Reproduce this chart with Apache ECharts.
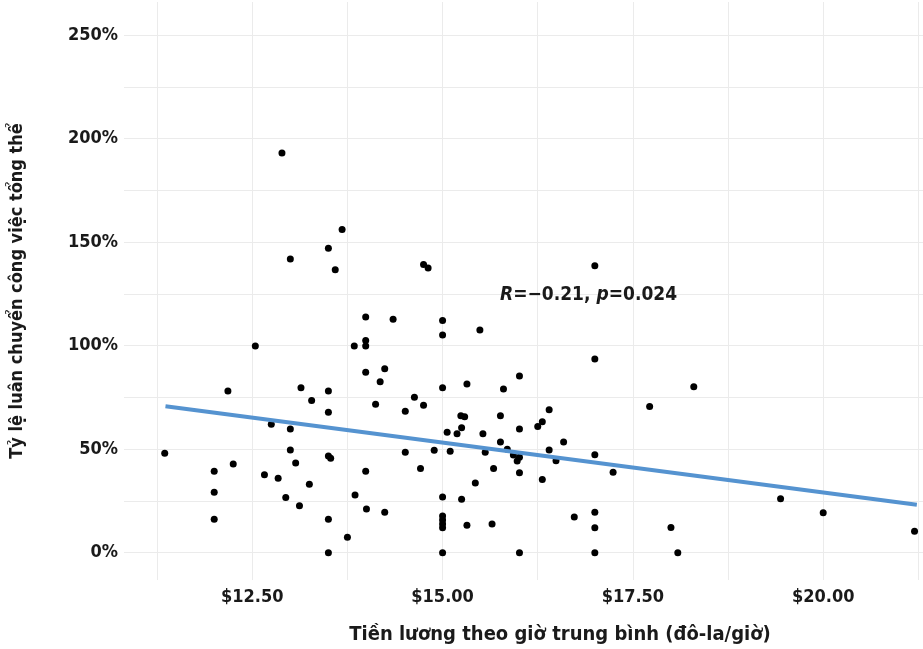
<!DOCTYPE html>
<html>
<head>
<meta charset="utf-8">
<script src="https://cdn.jsdelivr.net/npm/echarts@6/dist/echarts.min.js"></script>
<style>
  html, body { margin: 0; padding: 0; background: #fff; }
  #chart { width: 923px; height: 649px; }
</style>
</head>
<body>
<div id="chart"></div>
<script>
// Average hourly wage (USD/hour)
const wage = [
  12.89, 13.68, 13.50, 13.00, 13.59, 13.99, 13.99, 13.99, 13.84, 12.54,
  14.24, 13.99, 14.18, 12.18, 13.14, 13.50, 13.28, 14.12, 13.50, 12.75,
  13.00, 11.35, 13.00, 13.50, 13.53, 13.07, 12.25, 12.00, 13.99, 12.66,
  12.84, 13.25, 12.00, 13.85, 12.94, 13.12, 14.00, 14.24, 12.00, 13.50,
  13.75, 13.50, 14.75, 14.81, 17.00, 14.35, 15.00, 15.00, 15.49, 17.00,
  16.01, 15.00, 15.32, 15.80, 14.63, 14.51, 14.75, 15.24, 15.29, 15.76,
  16.40, 16.31, 16.25, 15.25, 15.06, 15.19, 16.01, 15.53, 15.76, 16.59,
  14.51, 14.89, 15.10, 15.56, 15.85, 15.93, 16.01, 15.98, 16.40, 16.49,
  17.00, 14.71, 15.67, 16.01, 16.31, 15.43, 15.00, 15.25, 15.00, 15.00,
  15.00, 15.00, 15.32, 15.65, 16.73, 17.00, 17.00, 15.00, 16.01, 17.00,
  18.30, 17.72, 17.24, 19.44, 20.00, 21.20, 18.00, 18.09
];
// Overall job turnover rate (%)
const turnover = [
  193.1, 156.1, 147.0, 141.8, 136.7, 113.9, 102.5, 99.8, 99.8, 99.8,
  88.8, 87.2, 82.6, 78.1, 79.7, 78.1, 73.5, 71.7, 67.8, 62.0,
  59.8, 48.0, 49.6, 46.7, 45.6, 43.3, 42.8, 39.3, 39.3, 37.7,
  35.9, 33.0, 29.2, 27.9, 26.7, 22.7, 21.1, 19.5, 16.1, 16.1,
  7.4, 0.0, 139.2, 137.5, 138.6, 112.8, 112.1, 105.2, 107.6, 93.5,
  85.4, 79.7, 81.5, 79.1, 75.1, 68.3, 71.2, 66.2, 65.6, 66.2,
  69.0, 63.3, 60.9, 60.4, 58.2, 57.5, 59.8, 57.5, 53.5, 53.5,
  48.5, 49.5, 49.0, 48.5, 49.9, 47.2, 46.1, 44.3, 49.6, 44.4,
  47.3, 40.6, 40.6, 38.6, 35.4, 33.7, 26.9, 25.8, 17.7, 15.8,
  13.8, 12.0, 13.2, 13.8, 17.2, 19.5, 12.0, 0.0, 0.0, 0.0,
  80.2, 70.6, 38.8, 26.1, 19.3, 10.3, 12.2, 0.0
];
// Fitted trend line endpoints
const trendX = [11.36, 21.23];
const trendY = [70.7, 23.1];

const xLabelTicks = [12.5, 15, 17.5, 20];
const xGridTicks = [11.25, 12.5, 13.75, 15, 16.25, 17.5, 18.75, 20, 21.25, 22.5];
const yLabelTicks = [0, 50, 100, 150, 200, 250];
const yGridTicks = [0, 25, 50, 75, 100, 125, 150, 175, 200, 225, 250];

const xTitle = 'Tiền lương theo giờ trung bình (đô-la/giờ)';
const yTitle = 'Tỷ lệ luân chuyển công việc tổng thể';

const FONT = '"Liberation Sans Narrow", "DejaVu Sans Condensed", sans-serif';
const TXT = '#1a1a1a';
const GRID = '#ebebeb';

const points = wage.map((w, i) => [w, turnover[i]]);
const trend = trendX.map((x, i) => [x, trendY[i]]);

const chart = echarts.init(document.getElementById('chart'), null, { renderer: 'canvas' });
chart.setOption({
  animation: false,
  backgroundColor: '#ffffff',
  grid: { left: 124, right: -73, top: 2, bottom: 69, containLabel: false, outerBoundsMode: 'none' },
  xAxis: {
    type: 'value',
    min: 10.815,
    max: 22.27,
    name: xTitle,
    nameLocation: 'middle',
    nameGap: 45,
    nameTextStyle: { fontFamily: FONT, fontWeight: 'bold', fontSize: 20, color: TXT },
    axisLine: { show: false },
    axisTick: { show: false, customValues: xGridTicks },
    axisLabel: {
      customValues: xLabelTicks,
      margin: 8,
      fontFamily: FONT, fontWeight: 'bold', fontSize: 18, color: TXT,
      formatter: v => '$' + v.toFixed(2)
    },
    splitLine: { show: true, lineStyle: { color: GRID, width: 1 } }
  },
  yAxis: {
    type: 'value',
    min: -13.2,
    max: 266,
    name: yTitle,
    nameLocation: 'middle',
    nameGap: 98,
    nameRotate: 90,
    nameTextStyle: { fontFamily: FONT, fontWeight: 'bold', fontSize: 18, color: TXT },
    axisLine: { show: false },
    axisTick: { show: false, customValues: yGridTicks },
    axisLabel: {
      customValues: yLabelTicks,
      margin: 6,
      fontFamily: FONT, fontWeight: 'bold', fontSize: 18, color: TXT,
      formatter: v => v + '%'
    },
    splitLine: { show: true, lineStyle: { color: GRID, width: 1 } }
  },
  series: [
    {
      type: 'scatter',
      data: points,
      symbol: 'circle',
      symbolSize: 7,
      itemStyle: { color: '#000000', opacity: 1 },
      z: 2
    },
    {
      type: 'line',
      data: trend,
      showSymbol: false,
      symbol: 'none',
      lineStyle: { color: '#5593d0', width: 4 },
      z: 3
    }
  ],
  graphic: [
    {
      type: 'text',
      left: 500,
      top: 286,
      z: 10,
      style: {
        text: '{i|R}{n|=−0.21, }{i|p}{n|=0.024}',
        rich: {
          i: { fontFamily: FONT, fontWeight: 'bold', fontStyle: 'italic', fontSize: 19, fill: TXT },
          n: { fontFamily: FONT, fontWeight: 'bold', fontSize: 19, fill: TXT }
        }
      }
    }
  ]
});
</script>
</body>
</html>
